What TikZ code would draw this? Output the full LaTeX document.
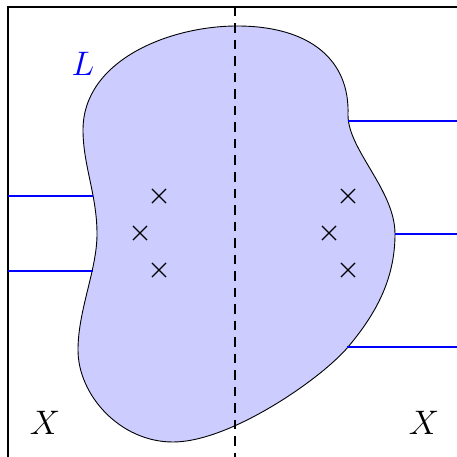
\documentclass[tikz,border=0pt]{standalone}
\usetikzlibrary{shapes.misc}
\begin{document}
\begin{tikzpicture}[x=1pt,y=-1pt,
  frame/.style={line width=2pt},
  blob/.style={draw=black,line width=0.9pt,fill=blue!20},
  axis/.style={line width=2pt,dash pattern=on 9.5pt off 7pt},
  ray/.style={blue,line width=2pt},
  pt/.style={draw,cross out,inner sep=0pt,minimum size=13pt,line width=1.1pt},
  lbl/.style={font=\Huge,scale=1.367}]
\useasboundingbox (0,0) rectangle (457,457);
% frame
\coordinate (fb) at (8,457);
\coordinate (ftl) at (8,7);
\coordinate (fr) at (457,7);
\draw[frame] (fb) -- (ftl) -- (fr);
% blob
\draw[blob] (237,26) .. controls (310,26) and (350,60) .. (348,115)
  .. controls (348,150) and (395,190) .. (395,234)
  .. controls (395,280) and (375,315) .. (348,347)
  .. controls (321,379) and (230,442) .. (173,442)
  .. controls (120,442) and (78,395) .. (78,350)
  .. controls (78,310) and (97,270) .. (97,234)
  .. controls (97,195) and (83,165) .. (83,130)
  .. controls (83,60) and (170,26) .. cycle;
% dashed axis
\coordinate (dt) at (235,7);
\coordinate (db) at (235,457);
\draw[axis] (dt) -- (db);
% rays
\coordinate (l1a) at (8,196); \coordinate (l1b) at (93,196);
\coordinate (l2a) at (8,271); \coordinate (l2b) at (93,271);
\coordinate (r1a) at (348,121); \coordinate (r1b) at (457,121);
\coordinate (r2a) at (395,234); \coordinate (r2b) at (457,234);
\coordinate (r3a) at (347,347); \coordinate (r3b) at (457,347);
\draw[ray] (l1a) -- (l1b);
\draw[ray] (l2a) -- (l2b);
\draw[ray] (r1a) -- (r1b);
\draw[ray] (r2a) -- (r2b);
\draw[ray] (r3a) -- (r3b);
% points
\node[pt] (p1) at (159,196) {};
\node[pt] (p2) at (140,233) {};
\node[pt] (p3) at (159,270) {};
\node[pt] (q1) at (348,196) {};
\node[pt] (q2) at (329,233) {};
\node[pt] (q3) at (348,270) {};
% labels
\node[lbl,blue] (L) at (83,64) {$L$};
\node[lbl] (X1) at (45,423) {$X$};
\node[lbl] (X2) at (424,423) {$X$};
\end{tikzpicture}
\end{document}
